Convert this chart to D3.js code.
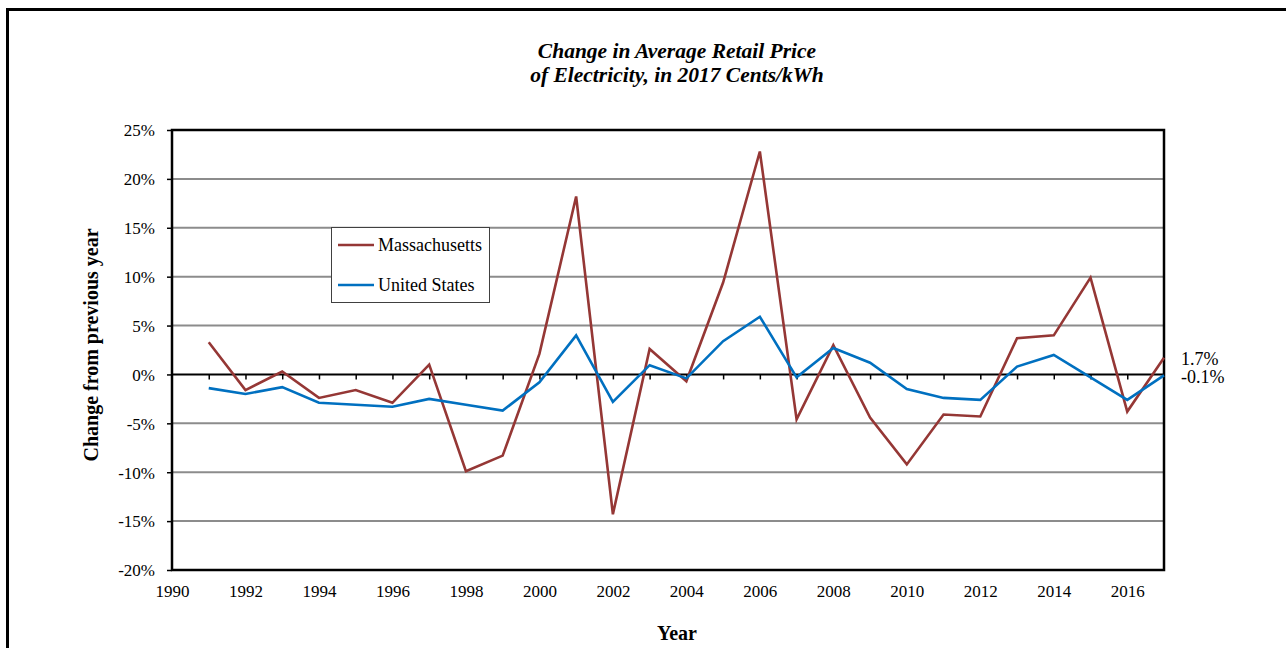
<!DOCTYPE html>
<html>
<head>
<meta charset="utf-8">
<script src="https://cdn.jsdelivr.net/npm/d3@7/dist/d3.min.js"></script>
<style>
  html, body { margin: 0; padding: 0; background: #fff; }
  svg { display: block; }
  text { font-family: "Liberation Serif", "Times New Roman", serif; fill: #000; }
</style>
</head>
<body>
<svg id="chart" width="1286" height="648"></svg>
<script>
const years = [1991,1992,1993,1994,1995,1996,1997,1998,1999,2000,2001,2002,2003,2004,2005,2006,2007,2008,2009,2010,2011,2012,2013,2014,2015,2016,2017];
const massachusetts = [3.3,-1.6,0.3,-2.4,-1.6,-2.9,1.0,-9.9,-8.3,2.1,18.2,-14.3,2.6,-0.7,9.4,22.8,-4.6,3.0,-4.4,-9.2,-4.1,-4.3,3.7,4.0,9.9,-3.8,1.7];
const unitedStates = [-1.4,-2.0,-1.3,-2.9,-3.1,-3.3,-2.5,-3.1,-3.7,-0.8,4.0,-2.8,0.95,-0.4,3.4,5.9,-0.3,2.7,1.2,-1.5,-2.4,-2.6,0.8,2.0,-0.3,-2.6,-0.1];
const yTicks = [-20,-15,-10,-5,0,5,10,15,20,25];
const xTicks = [1990,1992,1994,1996,1998,2000,2002,2004,2006,2008,2010,2012,2014,2016];
const seriesNames = ["Massachusetts","United States"];
const seriesColors = ["#953735","#0070C0"];
const titleLines = ["Change in Average Retail Price","of Electricity, in 2017 Cents/kWh"];
const endLabels = ["1.7%","-0.1%"];

const svg = d3.select("#chart");
const L = 172, R = 1164, T = 130, B = 570;
const x = d3.scaleLinear().domain([1990, 2017]).range([L, R]);
const y = d3.scaleLinear().domain([-20, 25]).range([B, T]);

// outer frame
svg.append("rect").attr("x", 7.5).attr("y", 9.5).attr("width", 1300).attr("height", 660)
  .attr("fill", "none").attr("stroke", "#000").attr("stroke-width", 3);

// title
svg.append("g").selectAll("text").data(titleLines).join("text")
  .attr("x", 677).attr("y", (d, i) => 58 + i * 24)
  .attr("text-anchor", "middle").attr("font-size", 21.5)
  .attr("font-weight", "bold").attr("font-style", "italic").text(d => d);

// gridlines
svg.append("g").selectAll("line").data(yTicks.filter(v => v !== 0 && v !== 25 && v !== -20)).join("line")
  .attr("x1", L).attr("x2", R).attr("y1", d => y(d)).attr("y2", d => y(d))
  .attr("stroke", "#8c8c8c").attr("stroke-width", 2);

// y axis
const yAxis = d3.axisLeft(y).tickValues(yTicks).tickSize(5).tickFormat(d => d + "%");
const gy = svg.append("g").attr("transform", `translate(${L},0)`).call(yAxis);
gy.select(".domain").remove();
gy.selectAll("line").attr("stroke", "#000").attr("stroke-width", 1.5);
gy.selectAll("text").attr("font-size", 17).attr("x", -17).attr("dy", "0.34em")
  .style("font-family", "'Liberation Serif', serif");

// x axis labels (below plot)
const xAxis = d3.axisBottom(x).tickValues(xTicks).tickSize(0).tickFormat(d3.format("d"));
const gx = svg.append("g").attr("transform", `translate(0,${B})`).call(xAxis);
gx.select(".domain").remove();
gx.selectAll("text").attr("font-size", 17).attr("y", 27).attr("dy", 0)
  .style("font-family", "'Liberation Serif', serif");

// zero line with year ticks
svg.append("line").attr("x1", L).attr("x2", R).attr("y1", y(0)).attr("y2", y(0))
  .attr("stroke", "#000").attr("stroke-width", 2);
const zeroAxis = d3.axisBottom(x).tickValues(d3.range(1991, 2017)).tickSize(5).tickFormat("");
const gz = svg.append("g").attr("transform", `translate(0,${y(0)})`).call(zeroAxis);
gz.select(".domain").remove();
gz.selectAll("line").attr("stroke", "#000").attr("stroke-width", 1.5);

// plot border
svg.append("rect").attr("x", L).attr("y", T).attr("width", R - L).attr("height", B - T)
  .attr("fill", "none").attr("stroke", "#000").attr("stroke-width", 2.5);

// lines
const line = d3.line().x((d, i) => x(years[i])).y(d => y(d));
[massachusetts, unitedStates].forEach((s, k) => {
  svg.append("path").datum(s).attr("d", line).attr("fill", "none")
    .attr("stroke", seriesColors[k]).attr("stroke-width", 2.6).attr("stroke-linejoin", "miter");
});

// legend
const lg = svg.append("g");
lg.append("rect").attr("x", 331.5).attr("y", 227.5).attr("width", 158).attr("height", 75)
  .attr("fill", "#fff").attr("stroke", "#404040").attr("stroke-width", 1);
seriesNames.forEach((n, i) => {
  const cy = 245 + i * 40;
  lg.append("line").attr("x1", 338).attr("x2", 374).attr("y1", cy).attr("y2", cy)
    .attr("stroke", seriesColors[i]).attr("stroke-width", 2.6);
  lg.append("text").attr("x", 378).attr("y", cy + 6).attr("font-size", 18).text(n);
});

// end labels
svg.append("g").selectAll("text").data(endLabels).join("text")
  .attr("x", 1181).attr("y", (d, i) => 365 + i * 18).attr("font-size", 18).text(d => d);

// axis titles
svg.append("text").attr("transform", "translate(98,345) rotate(-90)")
  .attr("text-anchor", "middle").attr("font-size", 20).attr("font-weight", "bold")
  .text("Change from previous year");
svg.append("text").attr("x", 677).attr("y", 640).attr("text-anchor", "middle")
  .attr("font-size", 20).attr("font-weight", "bold").text("Year");
</script>
</body>
</html>
